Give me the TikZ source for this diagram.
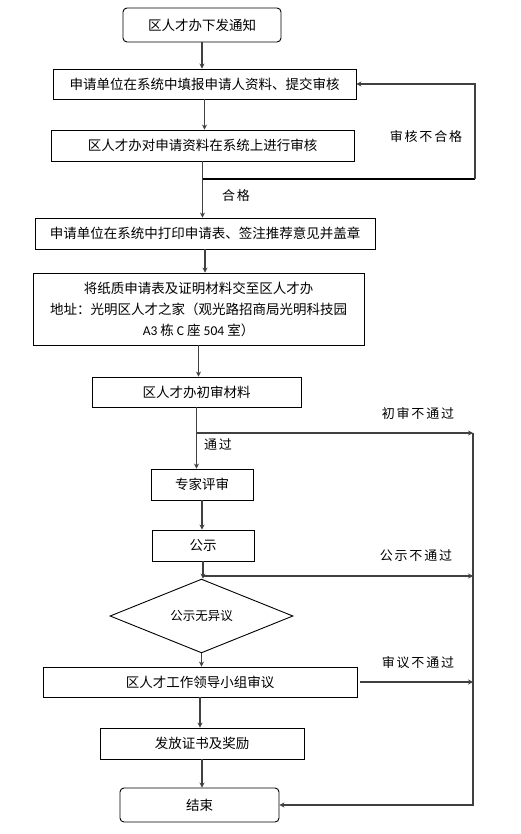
\documentclass[tikz,border=0pt]{standalone}
\usepackage{fontspec}
\setmainfont{Noto Sans CJK SC}
\newfontfamily\latinfont{Carlito}
\newfontfamily\notefont[LetterSpace=14]{Noto Sans CJK SC}
\usetikzlibrary{shapes.geometric,arrows.meta}

\begin{document}
\begin{tikzpicture}[x=1pt, y=-1pt,
		box/.style={draw=black, line width=0.9pt, inner sep=0pt, align=center, font=\fontsize{13.5}{21}\selectfont},
		endbox/.style={box, rounded corners=4pt},
		choice/.style={box, diamond, line width=0.9pt},
		flow/.style={draw=black!75, line width=1.3pt, -{Stealth[length=5pt,width=5pt]}},
		note/.style={font=\notefont\fontsize{13}{15}\selectfont}]
				\useasboundingbox (0,0) rectangle (521,834);
				% main column
				\node[endbox, minimum width=158pt, minimum height=34pt] (notice) at (202,25) {区人才办下发通知};
				\node[box, minimum width=303pt, minimum height=30pt] (fill) at (204.5,84) {申请单位在系统中填报申请人资料、提交审核};
				\node[box, minimum width=303pt, minimum height=31pt] (check) at (202.5,145.5) {区人才办对申请资料在系统上进行审核};
				\node[box, minimum width=340pt, minimum height=31pt] (print) at (205,233.5) {申请单位在系统中打印申请表、签注推荐意见并盖章};
				\node[box, minimum width=331pt, minimum height=72pt] (hand) at (198.5,309) {将纸质申请表及证明材料交至区人才办\\地址：光明区人才之家（观光路招商局光明科技园\\{\latinfont A3} 栋 {\latinfont C} 座 {\latinfont 504} 室）};
				\node[box, minimum width=209pt, minimum height=30pt] (first) at (196.5,392) {区人才办初审材料};
				\node[box, minimum width=102pt, minimum height=31pt] (expert) at (202,484.5) {专家评审};
				\node[box, minimum width=102pt, minimum height=31pt] (show) at (203,545.5) {公示};
				\node[choice, minimum width=183pt, minimum height=54pt, font=\fontsize{12.5}{14}\selectfont] (noobj) at (201.5,616) {公示无异议};
				\node[box, minimum width=314pt, minimum height=30pt] (group) at (200,682) {区人才工作领导小组审议};
				\node[box, minimum width=204pt, minimum height=31pt] (award) at (202,743.5) {发放证书及奖励};
				\node[endbox, minimum width=159pt, minimum height=34pt] (finish) at (199.5,805) {结束};
				\foreach \a/\b in {notice/fill, fill/check, check/print, print/hand, hand/first, first/expert, expert/show, show/noobj, noobj/group, group/award, award/finish} {
					\draw[flow] (\a.south) -- (\a.south |- \b.north);
				}
				% return loop
				\coordinate (back) at (475,179);
				\draw[line width=1.8pt, black] (check.south |- back) -- (back);
				\draw[flow] (back) |- (fill.east);
				\node[note] (backtxt) at (426,137) {审核不合格};
				\node[note] (oktxt) at (236,196) {合格};
				% failure branches
				\coordinate (r1) at (473,433);
				\coordinate (r2) at (473,576);
				\coordinate (r3) at (473,682);
				\draw[flow] (first.south |- r1) -- (r1);
				\draw[flow] (show.south |- r2) -- (r2);
				\draw[flow] ([xshift=3pt]group.east) -- (r3);
				\draw[flow] (r1) |- (finish.east);
				\node[note] (r1txt) at (418,414) {初审不通过};
				\node[note] (passtxt) at (218,445) {通过};
				\node[note] (r2txt) at (416,556) {公示不通过};
				\node[note] (r3txt) at (418,663) {审议不通过};
\end{tikzpicture}
\end{document}
